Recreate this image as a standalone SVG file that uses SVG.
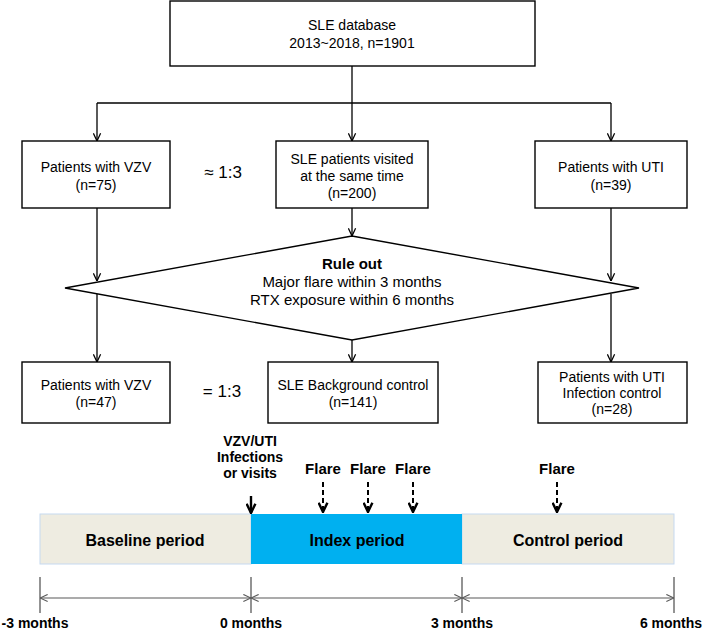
<svg xmlns="http://www.w3.org/2000/svg" width="705" height="632" viewBox="0 0 705 632">
  <style>
    .box { fill: #ffffff; stroke: #000000; stroke-width: 1.4; }
    .t { font-family: "Liberation Sans", Arial, sans-serif; font-size: 14px; fill: #000000; text-anchor: middle; }
    .tb { font-family: "Liberation Sans", Arial, sans-serif; font-weight: bold; fill: #000000; text-anchor: middle; }
    .conn { stroke: #000000; stroke-width: 1.3; fill: none; }
    .tick { stroke: #595959; stroke-width: 1.3; fill: none; }
    .span { stroke: #595959; stroke-width: 1.1; fill: none; marker-start: url(#ga); marker-end: url(#ga); }
    .bar { stroke: #c6d9f0; stroke-width: 1; }
  </style>
  <defs>
    <marker id="ah" viewBox="0 0 10 10" refX="9.5" refY="5" markerWidth="9" markerHeight="9" markerUnits="userSpaceOnUse" orient="auto">
      <path d="M1,1 L9.5,5 L1,9" fill="none" stroke="#000000" stroke-width="1.4"/>
    </marker>
    <marker id="bh" viewBox="0 0 10 10" refX="9.5" refY="5" markerWidth="11" markerHeight="11" markerUnits="userSpaceOnUse" orient="auto">
      <path d="M1,1 L9.5,5 L1,9" fill="none" stroke="#000000" stroke-width="2.2"/>
    </marker>
    <marker id="ga" viewBox="0 0 10 10" refX="9.5" refY="5" markerWidth="9" markerHeight="9" markerUnits="userSpaceOnUse" orient="auto-start-reverse">
      <path d="M1,1 L9.5,5 L1,9" fill="none" stroke="#595959" stroke-width="1.2"/>
    </marker>
  </defs>

  <g id="connectors">
    <line class="conn" x1="352" y1="66" x2="352" y2="103"/>
    <line class="conn" x1="97" y1="103" x2="611" y2="103"/>
    <line class="conn" x1="97" y1="103" x2="97" y2="141" marker-end="url(#ah)"/>
    <line class="conn" x1="352" y1="103" x2="352" y2="141" marker-end="url(#ah)"/>
    <line class="conn" x1="611" y1="103" x2="611" y2="141" marker-end="url(#ah)"/>
    <line class="conn" x1="97" y1="208" x2="97" y2="281" marker-end="url(#ah)"/>
    <line class="conn" x1="352" y1="208" x2="352" y2="236" marker-end="url(#ah)"/>
    <line class="conn" x1="611" y1="208" x2="611" y2="281" marker-end="url(#ah)"/>
    <line class="conn" x1="97" y1="294" x2="97" y2="362" marker-end="url(#ah)"/>
    <line class="conn" x1="352" y1="340" x2="352" y2="362" marker-end="url(#ah)"/>
    <line class="conn" x1="611" y1="294" x2="611" y2="362" marker-end="url(#ah)"/>
  </g>

  <g id="db">
    <rect class="box" x="170" y="1" width="365" height="65"/>
    <text class="t" x="352" y="30">SLE database</text>
    <text class="t" x="352" y="48">2013~2018, n=1901</text>
  </g>

  <g id="vzv1">
    <rect class="box" x="22" y="141" width="148" height="67"/>
    <text class="t" x="96" y="172">Patients with VZV</text>
    <text class="t" x="96" y="190">(n=75)</text>
  </g>
  <g id="ratio1">
    <text class="t" x="223" y="178" style="font-size:17px">≈ 1:3</text>
  </g>
  <g id="sle1">
    <rect class="box" x="276" y="141" width="152" height="67"/>
    <text class="t" x="352" y="164">SLE patients visited</text>
    <text class="t" x="352" y="181">at the same time</text>
    <text class="t" x="352" y="198">(n=200)</text>
  </g>
  <g id="uti1">
    <rect class="box" x="535" y="141" width="152" height="67"/>
    <text class="t" x="611" y="172">Patients with UTI</text>
    <text class="t" x="611" y="190">(n=39)</text>
  </g>

  <g id="ruleout">
    <polygon class="box" points="65,288 352,236 639,288 352,340"/>
    <text class="tb" x="352" y="269" style="font-size:15px">Rule out</text>
    <text class="t" x="352" y="287" style="font-size:15px">Major flare within 3 months</text>
    <text class="t" x="352" y="305" style="font-size:15px">RTX exposure within 6 months</text>
  </g>

  <g id="vzv2">
    <rect class="box" x="22" y="362" width="148" height="61"/>
    <text class="t" x="96" y="390">Patients with VZV</text>
    <text class="t" x="96" y="407">(n=47)</text>
  </g>
  <g id="ratio2">
    <text class="t" x="222" y="397" style="font-size:17px">= 1:3</text>
  </g>
  <g id="sle2">
    <rect class="box" x="268" y="362" width="170" height="61"/>
    <text class="t" x="353" y="390">SLE Background control</text>
    <text class="t" x="353" y="407">(n=141)</text>
  </g>
  <g id="uti2">
    <rect class="box" x="538" y="362" width="149" height="61"/>
    <text class="t" x="612" y="382">Patients with UTI</text>
    <text class="t" x="612" y="398">Infection control</text>
    <text class="t" x="612" y="414">(n=28)</text>
  </g>

  <g id="timeline">
    <rect class="bar" x="40" y="514" width="211" height="50" fill="#eeece1"/>
    <rect class="bar" x="462" y="514" width="212" height="50" fill="#eeece1"/>
    <rect x="251" y="514" width="211" height="50" fill="#00b0f0"/>
    <text class="tb" x="145" y="546" style="font-size:16px">Baseline period</text>
    <text class="tb" x="357" y="546" style="font-size:16px">Index period</text>
    <text class="tb" x="568" y="546" style="font-size:16px">Control period</text>

    <text class="tb" x="250" y="446" style="font-size:14px">VZV/UTI</text>
    <text class="tb" x="250" y="462" style="font-size:14px">Infections</text>
    <text class="tb" x="250" y="478" style="font-size:14px">or visits</text>
    <line x1="251" y1="496" x2="251" y2="513" stroke="#000" stroke-width="2.4" marker-end="url(#bh)"/>

    <text class="tb" x="323" y="474" style="font-size:15px">Flare</text>
    <text class="tb" x="368" y="474" style="font-size:15px">Flare</text>
    <text class="tb" x="413" y="474" style="font-size:15px">Flare</text>
    <text class="tb" x="557" y="474" style="font-size:15px">Flare</text>
    <line x1="323" y1="482" x2="323" y2="512" stroke="#000" stroke-width="2" stroke-dasharray="5,3" marker-end="url(#bh)"/>
    <line x1="368" y1="482" x2="368" y2="512" stroke="#000" stroke-width="2" stroke-dasharray="5,3" marker-end="url(#bh)"/>
    <line x1="413" y1="482" x2="413" y2="512" stroke="#000" stroke-width="2" stroke-dasharray="5,3" marker-end="url(#bh)"/>
    <line x1="557" y1="482" x2="557" y2="512" stroke="#000" stroke-width="2" stroke-dasharray="5,3" marker-end="url(#bh)"/>

    <line class="tick" x1="40" y1="577" x2="40" y2="613"/>
    <line class="tick" x1="251" y1="577" x2="251" y2="613"/>
    <line class="tick" x1="462" y1="577" x2="462" y2="613"/>
    <line class="tick" x1="674" y1="577" x2="674" y2="613"/>
    <line class="span" x1="40" y1="598" x2="251" y2="598"/>
    <line class="span" x1="251" y1="598" x2="462" y2="598"/>
    <line class="span" x1="462" y1="598" x2="674" y2="598"/>

    <text class="tb" x="35" y="628" style="font-size:14px">-3 months</text>
    <text class="tb" x="251" y="628" style="font-size:14px">0 months</text>
    <text class="tb" x="462" y="628" style="font-size:14px">3 months</text>
    <text class="tb" x="671" y="628" style="font-size:14px">6 months</text>
  </g>
</svg>
